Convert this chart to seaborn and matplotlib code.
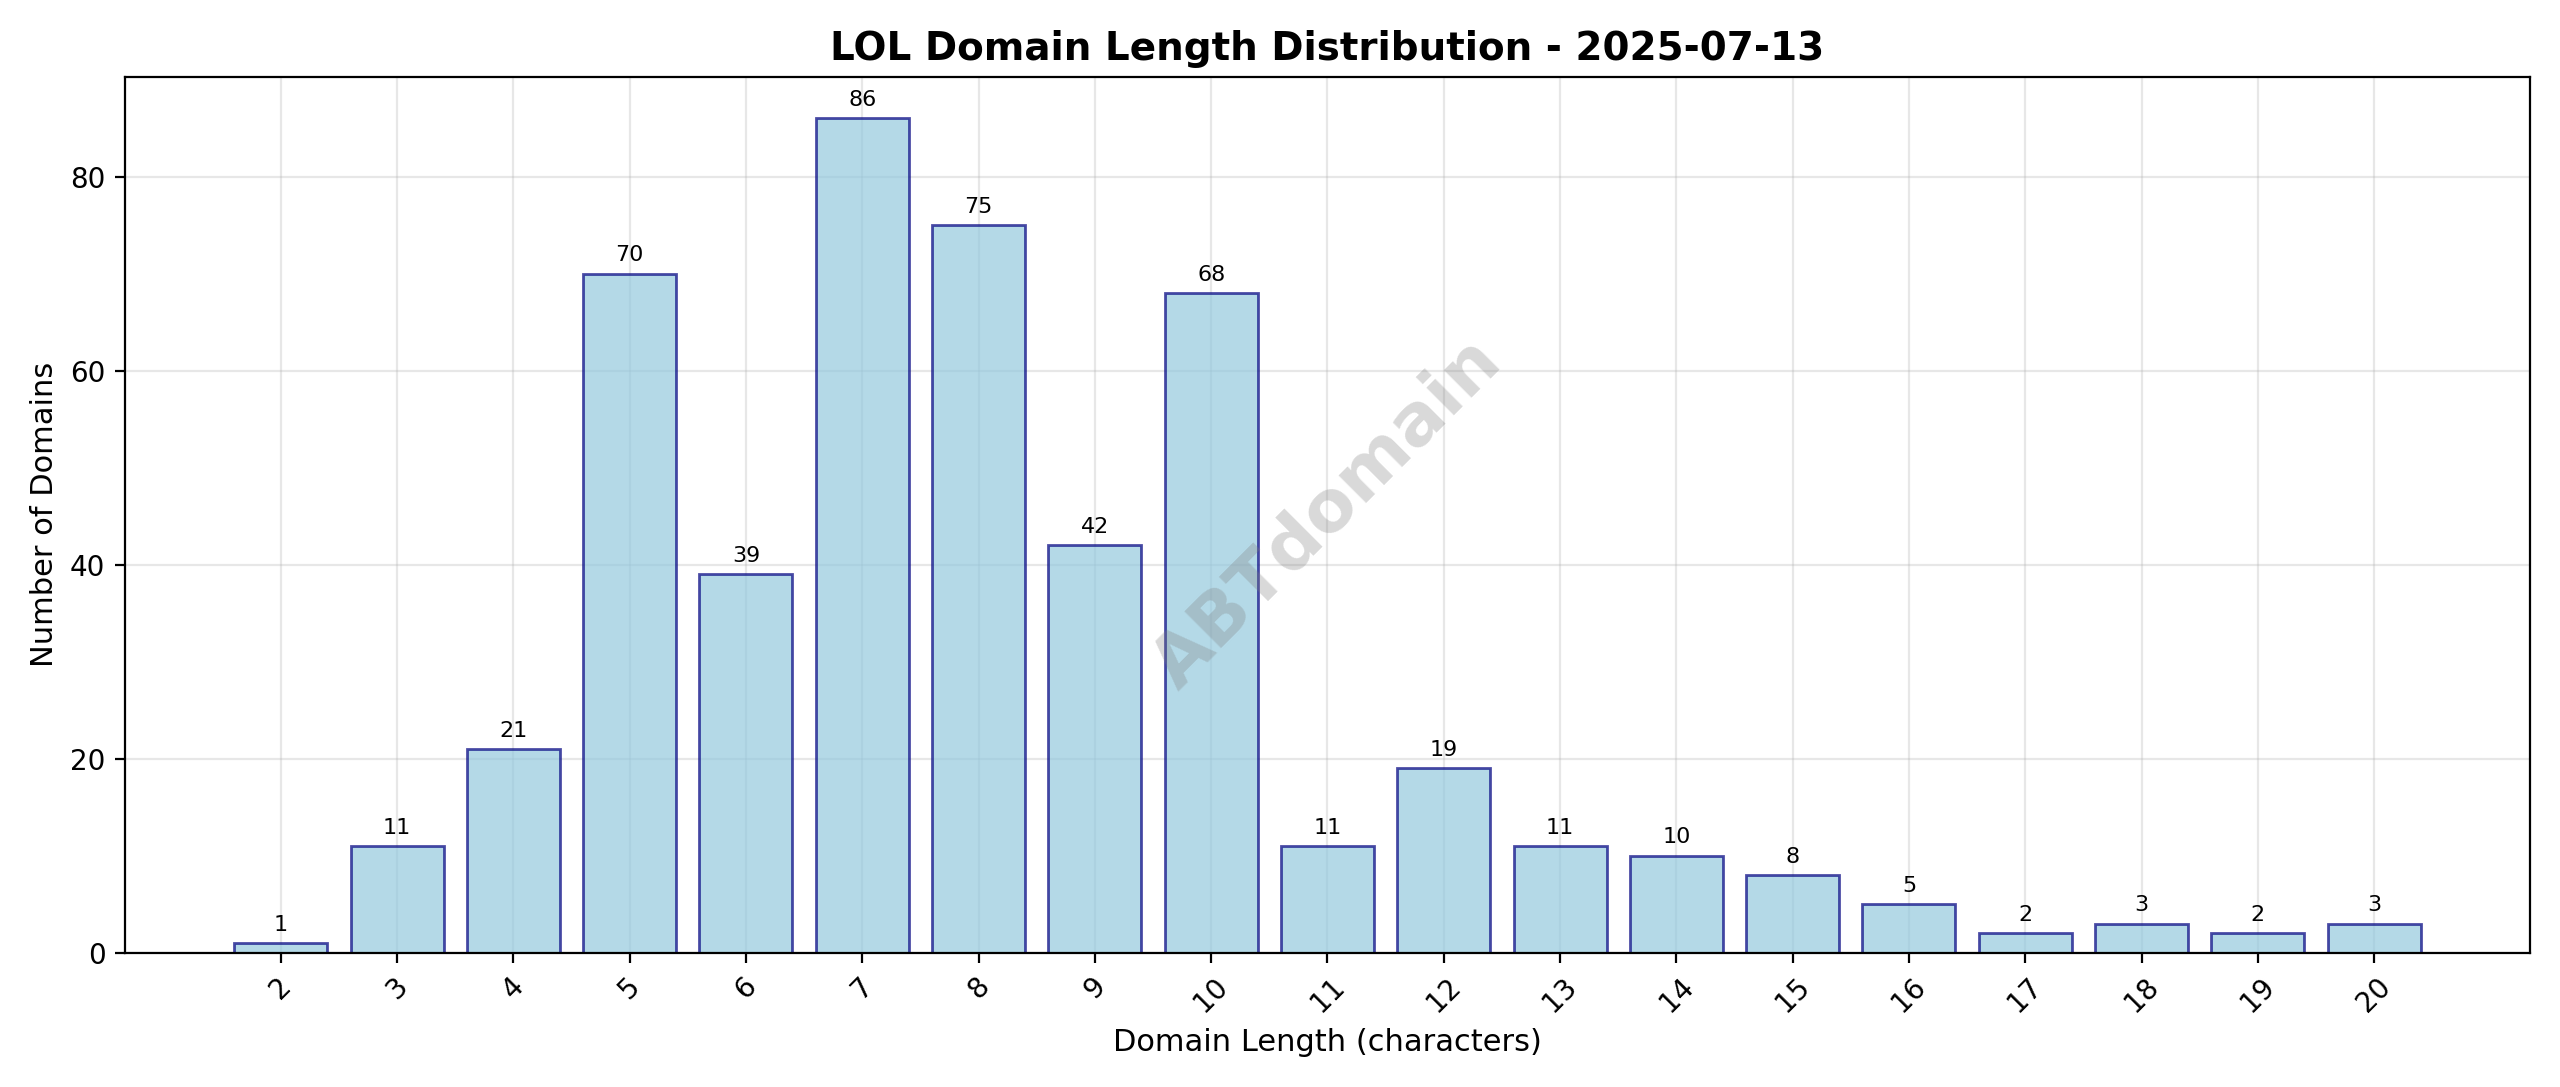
import matplotlib
matplotlib.use("Agg")
import matplotlib.pyplot as plt
import seaborn as sns
import pandas as pd

lengths = list(range(2, 21))
counts = [1, 11, 21, 70, 39, 86, 75, 42, 68, 11, 19, 11, 10, 8, 5, 2, 3, 2, 3]
title = "LOL Domain Length Distribution - 2025-07-13"

df = pd.DataFrame({"length": lengths, "count": counts})
fig, ax = plt.subplots(figsize=(12.8, 5.435), dpi=200)
sns.barplot(data=df, x="length", y="count", native_scale=True, width=0.8,
            color="skyblue", alpha=0.7, edgecolor="navy", linewidth=1, ax=ax)
for p in ax.patches:
    p.set_edgecolor((0.0, 0.0, 0.5, 0.7))
ax.set_xlim(lengths[0] - 1.34, lengths[-1] + 1.34)
ax.set_ylim(0, max(counts) * 1.05)
for x, c in zip(lengths, counts):
    ax.annotate(str(c), (x, c), xytext=(0, 3), textcoords="offset points",
                ha="center", va="bottom", fontsize=8)
ax.set_xticks(lengths)
ax.set_xticklabels([str(l) for l in lengths], rotation=45)
ax.set_title(title, fontsize=14, fontweight="bold")
ax.set_xlabel("Domain Length (characters)", fontsize=11)
ax.set_ylabel("Number of Domains", fontsize=11)
ax.grid(True, alpha=0.3)
ax.set_axisbelow(True)
ax.text(0.5, 0.5, "ABTdomain", transform=ax.transAxes, fontsize=26, color="gray",
        alpha=0.3, fontweight="bold", rotation=45, ha="center", va="center")
fig.tight_layout()
fig.savefig("out.png", dpi=200)
